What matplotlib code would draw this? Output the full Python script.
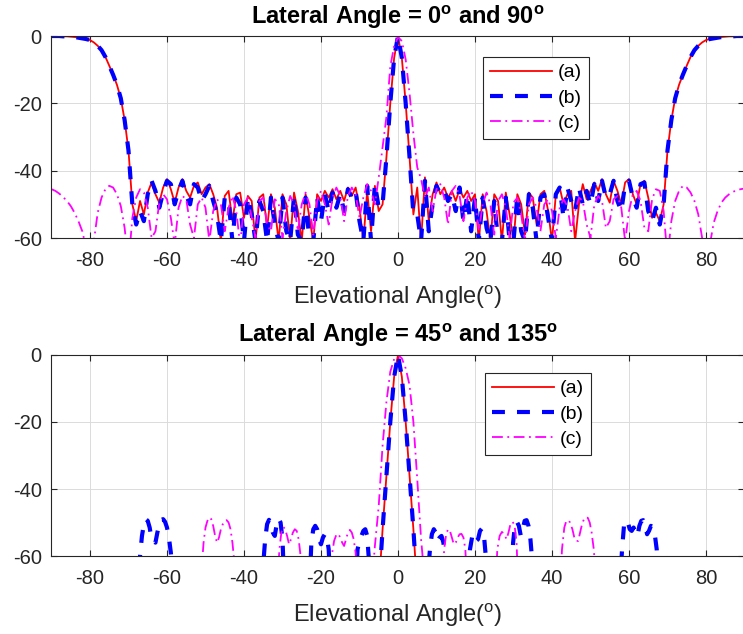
import numpy as np
import matplotlib
matplotlib.use("Agg")
import matplotlib.pyplot as plt

plt.rcParams['font.family'] = ['Liberation Sans', 'DejaVu Sans']
plt.rcParams['mathtext.fontset'] = 'custom'
plt.rcParams['mathtext.rm'] = 'Liberation Sans'
plt.rcParams['mathtext.bf'] = 'Liberation Sans:bold'
plt.rcParams['mathtext.it'] = 'Liberation Sans:italic'
plt.rcParams['axes.unicode_minus'] = False

# ---------------- data ----------------
series_labels = ['(a)', '(b)', '(c)']
x_ticks = [-80, -60, -40, -20, 0, 20, 40, 60, 80]
y_ticks = [-60, -40, -20, 0]

# Top panel: elevation angle sampled every degree, -90..90
angle_top = np.arange(-90, 91, 1)

top_a = [0, 0, 0, -0.1, -0.1, -0.2, -0.3, -0.5, -0.7, -0.9,
         -1.2, -1.9, -2.9, -4.2, -6.2, -8.8, -11.5, -14.5, -18.5, -25,
         -34, -50, -55, -49, -53, -46.5, -43.5, -47, -49.5, -45,
         -42.5, -45.5, -49.5, -45, -42.5, -46, -48, -44.5, -43.5, -47,
         -45, -44, -47, -51, -61, -47.5, -46, -55, -47, -46.5,
         -54, -47.5, -49, -61, -48, -47, -57, -47, -51, -61,
         -47, -50, -61, -46.5, -52, -61, -47, -54, -61, -47,
         -49, -46, -48, -45.5, -48.5, -46, -49, -45, -47.5, -45,
         -51, -61, -46, -58, -44.5, -52, -50, -36, -20, -6.5,
         0,
         -6.5, -20, -36, -53, -45, -61, -42, -55, -47, -43.5,
         -47, -45, -48, -46, -49, -45.5, -48, -46, -49, -47,
         -61, -47, -52, -61, -47, -49, -61, -46.5, -53, -61,
         -47, -50, -59, -46.5, -48, -56, -47, -46, -52, -61,
         -47, -45, -50, -47, -46, -61, -50, -44, -48.5, -46,
         -43.5, -46, -42.5, -47, -49.5, -43, -46, -50, -43.5, -42.5,
         -47, -50, -44, -43, -48, -54, -52.5, -55, -50, -34,
         -25, -18.5, -14.5, -11.5, -8.8, -6.2, -4.2, -2.9, -1.9, -1.2,
         -0.9, -0.7, -0.5, -0.3, -0.2, -0.1, -0.1, 0, 0, 0]

top_b = [0, 0, 0, -0.1, -0.1, -0.2, -0.3, -0.5, -0.7, -0.9,
         -1.2, -1.9, -2.9, -4.2, -6.2, -8.8, -11.5, -14.5, -18.5, -25,
         -34, -50, -56, -52, -55, -47, -43, -46, -51, -46.5,
         -43, -44, -50, -46, -43, -47.5, -50, -44, -45, -49,
         -47, -44.5, -49, -53, -61, -48, -49, -61, -48, -50,
         -61, -48, -53, -61, -49, -52, -61, -48, -56, -61,
         -48, -58, -61, -47.5, -59, -61, -48, -61, -61, -48,
         -55, -47, -52, -46.5, -51, -47, -52, -45.5, -48, -46,
         -55, -61, -44.5, -61, -44, -51, -50, -36, -20, -6.5,
         0,
         -6.5, -20, -36, -53, -53, -61, -43, -58, -50, -44.5,
         -47, -46, -49, -47, -52, -45, -55, -47, -58, -48,
         -61, -48, -57, -61, -49, -61, -61, -48, -61, -61,
         -47.5, -58, -61, -47, -51, -61, -48, -47, -54, -61,
         -47, -45, -54, -45, -49, -52, -45, -50, -46, -50,
         -44, -49, -43, -48, -47, -43, -49, -52, -44, -43,
         -48, -51, -44, -43.5, -52, -55, -51, -56, -50, -34,
         -25, -18.5, -14.5, -11.5, -8.8, -6.2, -4.2, -2.9, -1.9, -1.2,
         -0.9, -0.7, -0.5, -0.3, -0.2, -0.1, -0.1, 0, 0, 0]

top_c = [-45.5, -46, -46.8, -47.8, -49, -50.5, -52.5, -55, -58, -63,
         -75, -61, -52.5, -48, -45.5, -44.5, -45, -47, -50.5, -57,
         -68, -54, -48, -45.5, -46.5, -51, -60, -58, -49.5, -47,
         -48.5, -54, -62, -51, -47.5, -48.5, -56, -60, -50, -48,
         -51, -61, -52, -48.5, -50, -58, -51, -47.5, -52, -62,
         -50, -48, -54, -60, -49, -48, -56, -58, -48.5, -49.5,
         -60, -52, -47.5, -50, -58, -50, -46.5, -50, -59, -49,
         -46, -50, -56, -48, -45, -47.5, -55, -47.5, -45, -47,
         -54, -48, -44, -46, -50, -42, -33, -24, -9, -3,
         -0.3,
         -1.5, -7, -17, -29, -39, -42.5, -48, -45, -52, -45.5,
         -44, -48, -56, -46, -44.5, -47.5, -55, -48, -46, -49,
         -58, -50, -46.5, -50, -59, -49, -47, -51, -60, -49.5,
         -48, -53, -61, -50, -48, -51, -58, -50, -48.5, -52,
         -60, -51, -48.5, -50.5, -58, -52, -48, -49, -56, -60,
         -50, -47.5, -49, -57, -55, -48.5, -47.5, -51, -61, -52,
         -47, -46, -49, -57, -58, -48.5, -45.5, -46, -52, -66,
         -55, -49, -46, -44.5, -45, -46.5, -49, -53, -60, -72,
         -62, -55.5, -52, -49.5, -48, -47, -46.3, -45.8, -45.5, -45.3]

# Bottom panel: only the visible lobes (values below -60 are off the axis)
bot_a_x = [-90, -6, -5, -4, -3, -2, -1, 0, 1, 2, 3, 4, 5, 6, 90]
bot_a_y = [-80, -80, -70, -52, -36, -20, -6.5, 0, -6.5, -20, -36, -52, -70, -80, -80]

bot_b_x = [-90, -68, -67, -66.5, -66, -65.5, -65, -64.5, -64, -63, -62.5, -62, -61.5,
           -61, -60.5, -60, -59.5, -59, -58,
           -35.5, -34.5, -34, -33.5, -33, -32.5, -32, -31.5, -31, -30.5, -30, -29.5,
           -23, -22.5, -22, -21.5, -21, -20.5, -20, -19.5, -19, -18.5, -18, -17.5,
           -11, -10.5, -10, -9.5, -9, -8.5, -8, -7.5, -7,
           -6, -5, -4, -3, -2, -1, 0, 1, 2, 3, 4, 5, 6,
           7.5, 8.3, 8.8, 9.3, 9.8, 10.3, 10.8, 11.3, 11.8, 12.3, 12.8,
           18, 18.7, 19.3, 19.8, 20.3, 20.8, 21.3, 21.8, 22.3, 22.8, 23.3,
           29.3, 29.9, 30.4, 30.9, 31.4, 31.9, 32.4, 32.9, 33.4, 33.9, 34.4, 34.9, 35.4,
           57.5, 58.2, 58.7, 59.2, 59.7, 60.2, 60.7, 61.2, 61.7, 62.2, 62.7, 63.2, 63.7,
           64.2, 64.7, 65.2, 65.7, 66.2, 66.7, 67.2, 67.7, 90]
bot_b_y = [-80, -75, -60, -54, -50.5, -49, -49.5, -51.5, -55, -56, -53, -50.5, -49.2,
           -49, -49.8, -51.5, -54.5, -59, -72,
           -70, -55, -50.5, -49.2, -50.5, -53, -54, -50.5, -48.8, -50, -55, -70,
           -70, -56, -52, -51, -52, -55, -56.5, -54.5, -53.5, -54, -58, -70,
           -70, -58, -55.5, -54, -52.5, -52, -54, -62, -75,
           -80, -70, -52, -36, -20, -6.5, 0, -6.5, -20, -36, -52, -70, -80,
           -70, -58, -53.5, -52, -53, -55.5, -54.5, -54, -56, -62, -72,
           -70, -58, -54, -53.5, -55.5, -55, -52.5, -51.8, -53.5, -60, -72,
           -70, -56, -50.5, -49.8, -51, -54, -52, -49.5, -49.3, -51, -55, -62, -72,
           -72, -58, -51, -49.3, -50, -52, -52.5, -51.5, -53, -54, -51, -49.5, -49.3,
           -50.5, -53.5, -52.5, -51, -51.3, -53.5, -58, -72, -80]

bot_c_x = [-90, -51.5, -50.5, -50, -49.5, -49, -48.5, -48, -47.5, -47, -46.5, -46,
           -45.5, -45, -44.5, -44, -43.5, -43, -42.5, -42,
           -31.5, -30.8, -30.3, -29.8, -29.3, -28.8, -28.3, -27.8, -27.3, -26.8, -26.3,
           -25.8, -25.3, -24.8,
           -18, -17.2, -16.6, -16, -15.5, -15, -14.5, -14, -13.5, -13, -12.5, -12,
           -11.5, -11, -10.5,
           -7, -6, -5, -4, -3, -2, -1, 0, 1, 2, 3, 4, 5, 6, 7,
           11.3, 12, 12.5, 13, 13.5, 14, 14.5, 15, 15.5, 16, 16.5, 17, 17.5, 18,
           25.2, 25.8, 26.4, 27, 27.6, 28.2, 28.7, 29.2, 29.8, 30.3, 30.8, 31.3,
           42, 42.6, 43.2, 43.7, 44.2, 44.7, 45.3, 45.8, 46.3, 46.8, 47.3, 47.8,
           48.3, 48.8, 49.3, 49.8, 50.3, 50.8, 51.3, 51.8, 90]
bot_c_y = [-80, -72, -56, -51.5, -49.5, -48.5, -49, -51, -54, -56, -54.5, -52,
           -50.5, -49.5, -49.3, -50, -52, -56, -62, -72,
           -72, -58, -53, -51.3, -52, -54, -56.5, -55, -53, -52, -52.5,
           -55, -60, -72,
           -72, -60, -55.5, -53.6, -53.4, -54.5, -56, -57, -55, -53, -52.2, -53,
           -55, -59, -72,
           -72, -57, -45, -27, -14, -5, -1.2, 0, -1, -4, -9, -20, -37, -55, -68,
           -72, -58, -53.5, -52, -52.5, -54.5, -56.5, -56, -54.5, -53.5, -53.4, -54.5, -58, -72,
           -72, -58, -54, -52.8, -53.5, -55, -53, -50.5, -49.8, -51, -56, -72,
           -72, -58, -51.5, -49.6, -49.3, -50, -52, -54.5, -55.5, -55.5, -53, -50.5,
           -49, -48.4, -48.6, -50, -53, -57.5, -64, -72, -80]

top_title = r'Lateral Angle = 0$^{\mathbf{o}}$ and 90$^{\mathbf{o}}$'
bot_title = r'Lateral Angle = 45$^{\mathbf{o}}$ and 135$^{\mathbf{o}}$'
x_label = r'Elevational Angle($^{\mathrm{o}}$)'

# ---------------- drawing ----------------
fig = plt.figure(figsize=(7.43, 6.34), dpi=100)
ax_top = fig.add_axes([0.0693, 0.6246, 0.9327, 0.3186])
ax_bot = fig.add_axes([0.0693, 0.1230, 0.9327, 0.3171])

edge = (0.15, 0.15, 0.15)
styles = [dict(color=(1, 0, 0), lw=1.3, ls='-'),
          dict(color=(0, 0, 1), lw=3.0, dashes=(3.1, 2.9)),
          dict(color=(1, 0, 1), lw=1.3, dashes=(6, 2.5, 1, 2.5))]


def style_axes(ax, title, legend_anchor):
    ax.set_xlim(-90, 90)
    ax.set_ylim(-60, 0)
    ax.set_xticks(x_ticks)
    ax.set_yticks(y_ticks)
    ax.grid(True, color=(0.86, 0.86, 0.86), lw=0.7)
    ax.set_axisbelow(True)
    for s in ax.spines.values():
        s.set_color(edge)
        s.set_linewidth(0.8)
    ax.tick_params(direction='in', length=4, width=0.8, colors=edge,
                   labelsize=14.5, top=True, right=True, pad=7,
                   labelcolor=edge)
    ax.tick_params(axis='x', pad=9)
    ax.set_xlabel(x_label, fontsize=17, color=edge, labelpad=10)
    ax.set_title(title, fontsize=17, fontweight='bold', pad=9)
    leg = ax.legend(loc='upper left', bbox_to_anchor=legend_anchor,
                    fontsize=14, handlelength=3.2, handletextpad=0.3,
                    labelspacing=0.4, borderpad=0.35, fancybox=False,
                    framealpha=1, borderaxespad=0)
    leg.get_frame().set_edgecolor(edge)
    leg.get_frame().set_linewidth(0.8)


for ys, lab, st in zip([top_a, top_b, top_c], series_labels, styles):
    ax_top.plot(angle_top, ys, label=lab, **st)

for xs, ys, lab, st in zip([bot_a_x, bot_b_x, bot_c_x], [bot_a_y, bot_b_y, bot_c_y],
                           series_labels, styles):
    ax_bot.plot(xs, ys, label=lab, **st)

style_axes(ax_top, top_title, (0.6227, 0.896))
style_axes(ax_bot, bot_title, (0.6255, 0.910))

fig.savefig('out.png', dpi=100)
